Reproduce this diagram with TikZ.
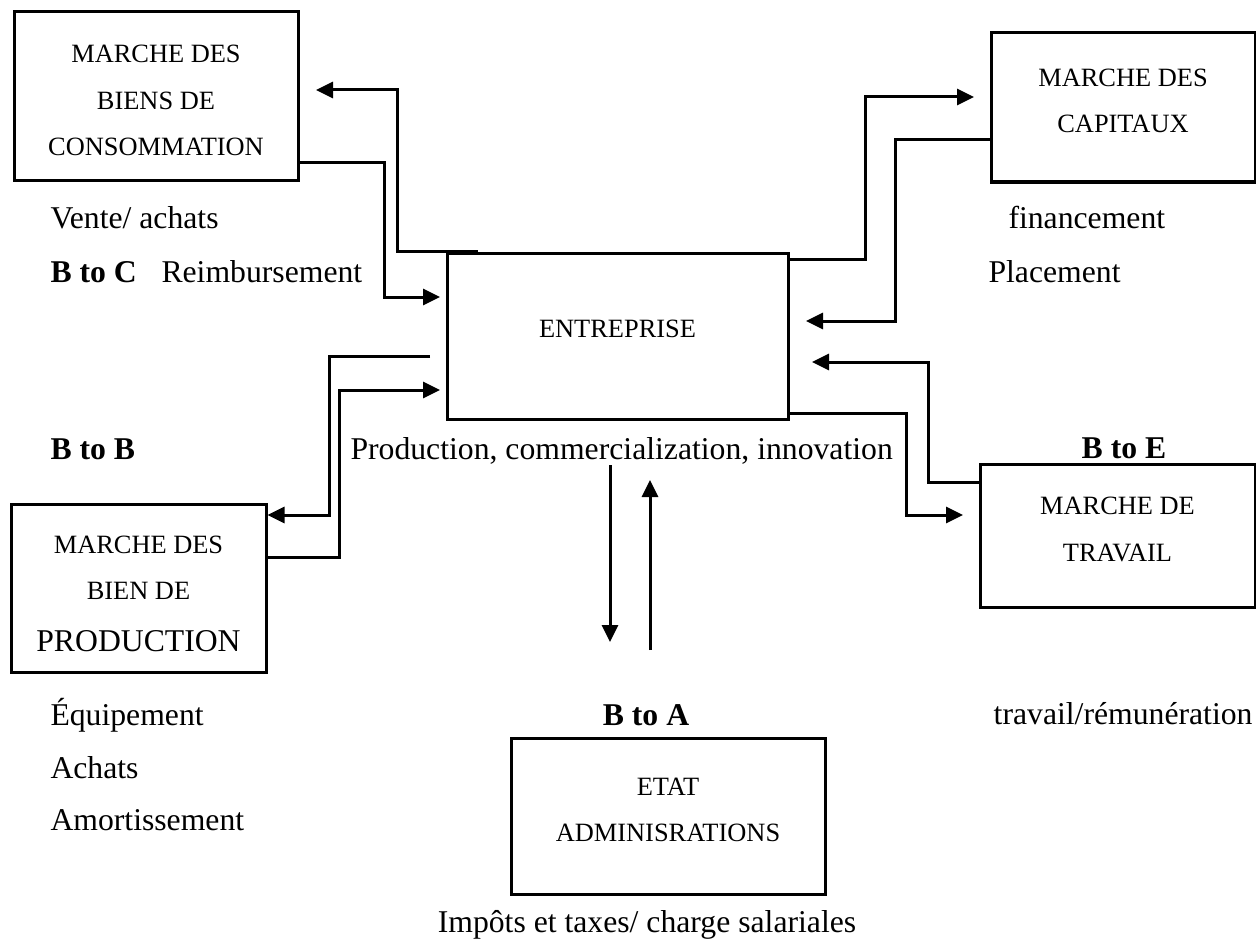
\documentclass[tikz,border=0pt]{standalone}
\usepackage{fontspec}
\setmainfont{Liberation Serif}
\usetikzlibrary{positioning,calc,arrows.meta}

\begin{document}
\begin{tikzpicture}[x=1pt,y=-1pt,line width=3pt,>={Triangle[length=17pt,width=16pt]},
	mbox/.style={draw,rectangle,inner sep=0pt},
	btxt/.style={align=center,inner sep=0pt,font=\fontsize{26.4}{46.5}\selectfont},
	lbl/.style={anchor=base west,inner sep=0pt,font=\fontsize{31.7}{38}\selectfont}]

\useasboundingbox (0,0) rectangle (1256,939);

% boxes
\node[mbox,minimum width=284pt,minimum height=169pt](bc) at (156,96.5) {};
\node[mbox,minimum width=264pt,minimum height=149pt](cap) at (1123,107.5) {};
\node[mbox,minimum width=341pt,minimum height=166pt](ent) at (617.5,336) {};
\node[mbox,minimum width=275pt,minimum height=143pt](trv) at (1117.5,535.5) {};
\node[mbox,minimum width=255pt,minimum height=168pt](prd) at (138.5,588) {};
\node[mbox,minimum width=314pt,minimum height=156pt](eta) at (668,816) {};

\node[btxt](bct) at ([yshift=-4.25pt]bc) {MARCHE DES\\BIENS DE\\CONSOMMATION};
\node[btxt](capt) at ([yshift=6.75pt]cap) {MARCHE DES\\CAPITAUX};
\node[btxt](entt) at ([yshift=6.75pt]ent) {ENTREPRISE};
\node[btxt](trvt) at ([yshift=6.25pt]trv) {MARCHE DE\\TRAVAIL};
\node[btxt](prdt) at ([yshift=-5.75pt]prd) {MARCHE DES\\BIEN DE\\[5.5pt]{\fontsize{31.7}{38}\selectfont PRODUCTION}};
\node[btxt](etat) at ([yshift=6.25pt]eta) {ETAT\\ADMINISRATIONS};

% connector ends
\coordinate (a1) at (ent.north -| 478,0);
\coordinate (t1) at (316,90);
\coordinate (a2) at (bc.east |- 0,163);
\coordinate (t2) at (440,297);
\coordinate (a3) at (ent.east |- 0,259);
\coordinate (t3) at (974,97);
\coordinate (a4) at (cap.west |- 0,140);
\coordinate (t4) at (806,321);
\coordinate (a5) at (trv.west |- 0,482);
\coordinate (t5) at (812,362);
\coordinate (a6) at (ent.east |- 0,413);
\coordinate (t6) at (963,515);
\coordinate (a7) at (430,356);
\coordinate (t7) at (prd.east |- 0,515);
\coordinate (a8) at (prd.east |- 0,557);
\coordinate (t8) at (440,390);
\coordinate (a9) at (610,465);
\coordinate (t9) at (610,642);
\coordinate (a10) at (650,650);
\coordinate (t10) at (650,480);

\foreach \s/\bx/\by/\t in {a1/397/90/t1,a2/384/297/t2,a3/865/97/t3,a4/895/321/t4,a5/928/362/t5,a6/906/515/t6,a7/329/515/t7,a8/339/390/t8}{
	\draw[->](\s)-|(\bx,\by)--(\t);
}
\foreach \s/\t in {a9/t9,a10/t10}{
	\draw[->](\s)--(\t);
}

% labels
\node[lbl](l1) at (49,228) {Vente/ achats};
\node[lbl](l2) at (49,282) {\textbf{B to C}};
\node[lbl](l3) at (160,282) {Reimbursement};
\node[lbl](l4) at (1007,228) {financement};
\node[lbl](l5) at (987,282) {Placement};
\node[lbl](l6) at (49,459) {\textbf{B to B}};
\node[lbl](l7) at (349,459) {Production, commercialization, innovation};
\node[lbl,anchor=base](l8) at (1124,458) {\textbf{B to E}};
\node[lbl](l9) at (49,725) {Équipement};
\node[lbl](l10) at (49,778) {Achats};
\node[lbl](l11) at (49,830) {Amortissement};
\node[lbl,anchor=base](l12) at (646,725) {\textbf{B to A}};
\node[lbl,anchor=base east](l13) at (1254,724) {travail/rémunération};
\node[lbl,anchor=base](l14) at (647,932) {Impôts et taxes/ charge salariales};
\end{tikzpicture}
\end{document}
